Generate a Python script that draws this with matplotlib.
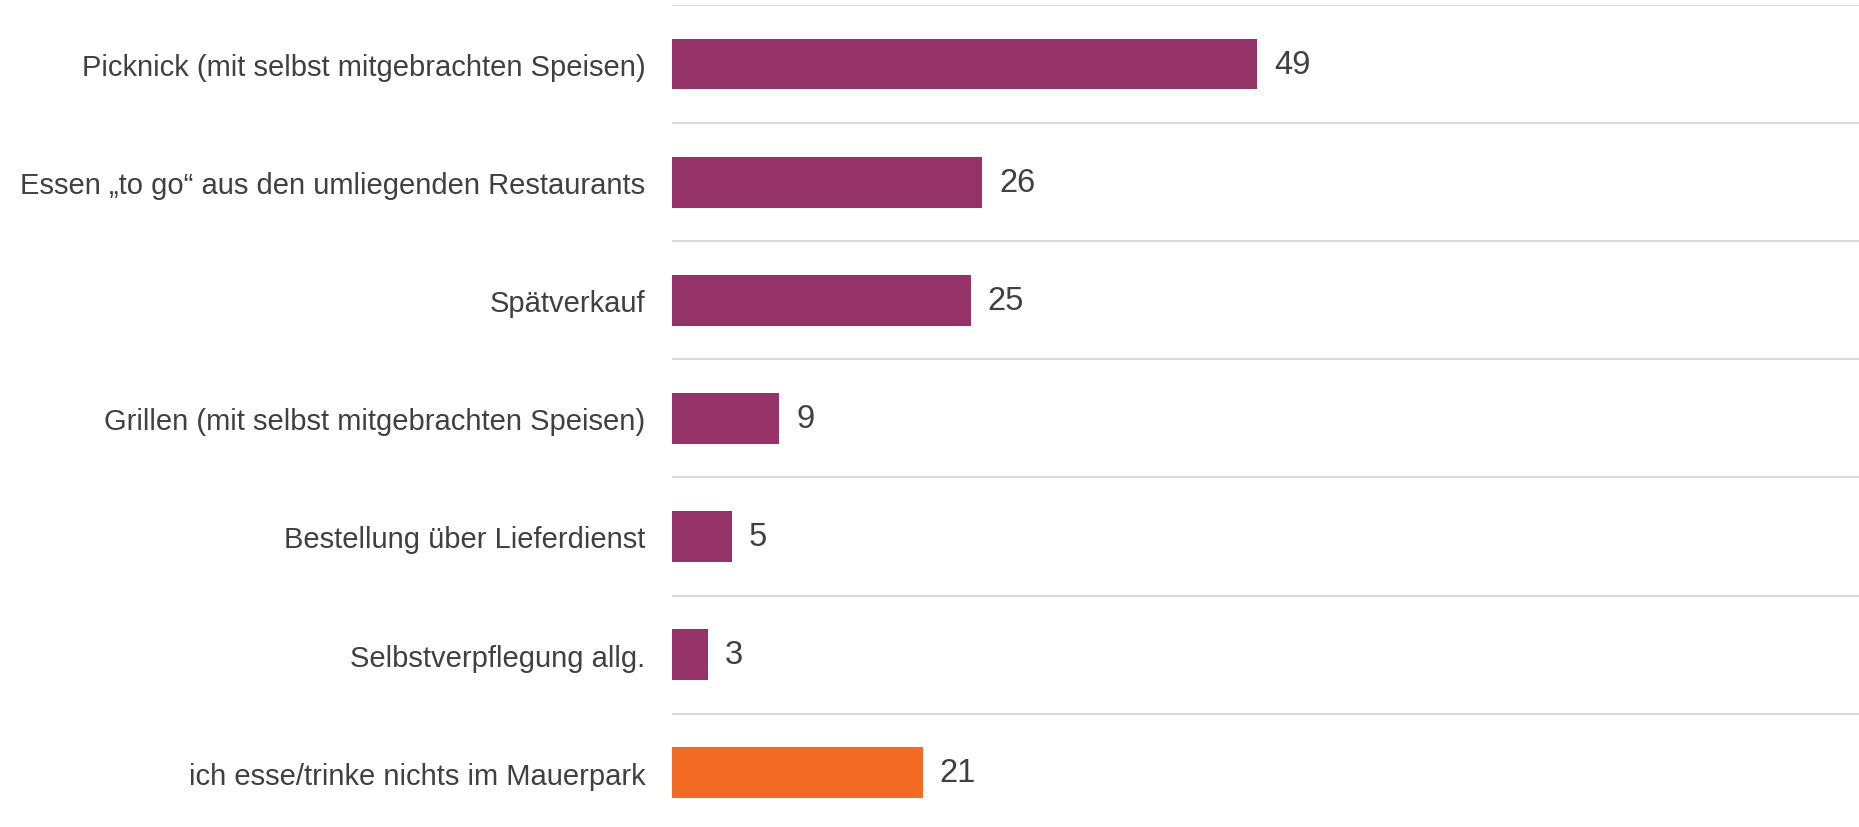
import matplotlib
matplotlib.use("Agg")
import matplotlib.pyplot as plt
from matplotlib.ticker import FixedLocator

categories = [
    "Picknick (mit selbst mitgebrachten Speisen)",
    "Essen \u201eto go\u201c aus den umliegenden Restaurants",
    "Sp\u00e4tverkauf",
    "Grillen (mit selbst mitgebrachten Speisen)",
    "Bestellung \u00fcber Lieferdienst",
    "Selbstverpflegung allg.",
    "ich esse/trinke nichts im Mauerpark",
]
values = [49, 26, 25, 9, 5, 3, 21]
colors = ["#953368"] * 6 + ["#F26A24"]

plt.rcParams['font.family'] = ['Liberation Sans', 'DejaVu Sans']

W, H = 1859, 828
fig = plt.figure(figsize=(W / 100, H / 100), dpi=100)
top_px, bot_px, left_px = 6.0, 832.7, 672.0
ax = fig.add_axes([left_px / W, 1 - bot_px / H, (W - left_px) / W, (bot_px - top_px) / H])

y = list(range(len(categories)))
ax.barh(y, values, height=0.43, color=colors)
ax.set_ylim(len(categories) - 0.5, -0.5)
ax.set_xlim(0, 99.4)

ax.set_yticks(y)
ax.set_yticklabels(categories, fontsize=21, color="#404040")
ax.tick_params(axis="y", length=0, pad=19)
ax.set_xticks([])
ax.yaxis.set_minor_locator(FixedLocator([i - 0.5 for i in range(len(categories) + 1)]))
ax.tick_params(axis="y", which="minor", length=0)
ax.grid(True, axis="y", which="minor", color="#d9d9d9", linewidth=1.5)
ax.set_axisbelow(True)
for s in ax.spines.values():
    s.set_visible(False)

for yi, v in zip(y, values):
    ax.annotate(str(v), xy=(v, yi), xytext=(12.2, 0), textcoords="offset points",
                va="center", ha="left", fontsize=23.5, color="#404040")

fig.savefig("out.png", dpi=100)
